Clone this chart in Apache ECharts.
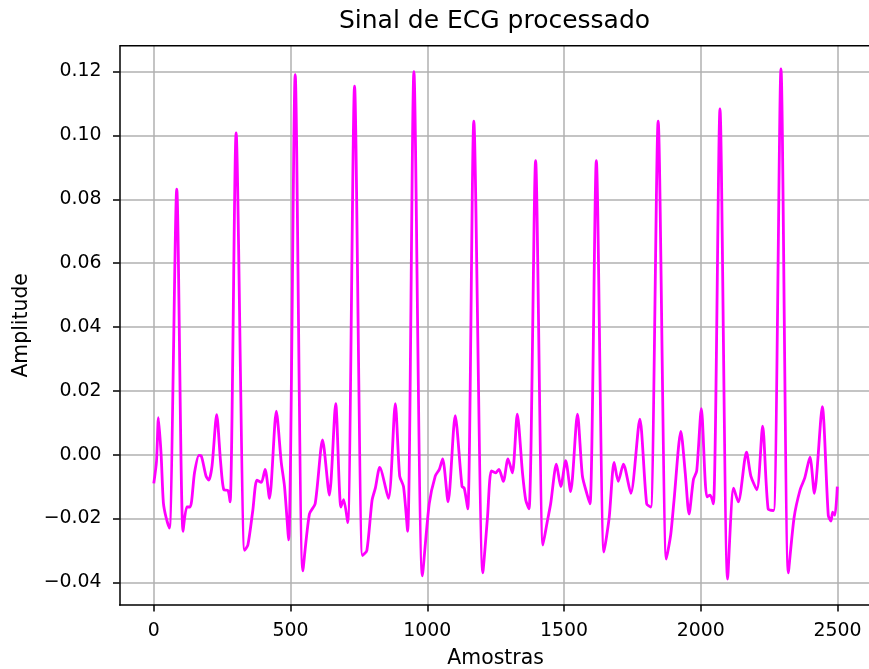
<!DOCTYPE html>
<html>
<head>
<meta charset="utf-8">
<script src="https://cdn.jsdelivr.net/npm/echarts@6/dist/echarts.min.js"></script>
<style>html,body{margin:0;padding:0;background:#fff}#c{width:869px;height:669px}</style>
</head>
<body>
<div id="c"></div>
<script>
const samples = [0,10,17,27,35,45,57,84,107,121,133,149,165,173,191,201,213,230,244,256,271,279,301,332,344,362,377,393,407,423,448,466,478,493,517,545,569,590,617,642,665,684,694,709,734,763,779,798,810,826,858,883,899,913,928,951,982,1007,1029,1044,1056,1076,1102,1127,1135,1148,1170,1203,1220,1234,1250,1262,1278,1295,1311,1329,1348,1360,1372,1396,1423,1439,1451,1472,1488,1506,1524,1549,1567,1583,1595,1618,1646,1665,1683,1698,1717,1744,1777,1802,1817,1844,1874,1890,1902,1927,1943,1957,1973,1985,2002,2022,2034,2046,2070,2098,2120,2137,2167,2183,2205,2226,2246,2266,2293,2320,2341,2363,2380,2399,2415,2444,2466,2476,2482,2490,2499];
const amplitude = [-0.009,-0.002,0.0116,-0.0003,-0.015,-0.0197,-0.023,0.0832,-0.024,-0.0164,-0.0164,-0.0056,-0.0002,-0.0003,-0.0067,-0.008,-0.0035,0.0125,-0.002,-0.011,-0.0112,-0.0148,0.1008,-0.030,-0.0283,-0.0175,-0.008,-0.0087,-0.0046,-0.0137,0.0136,-0.0024,-0.010,-0.0267,0.119,-0.0364,-0.0186,-0.0154,0.0046,-0.0127,0.016,-0.0164,-0.0141,-0.0213,0.1154,-0.0316,-0.030,-0.0143,-0.0105,-0.004,-0.0137,0.016,-0.0067,-0.010,-0.024,0.12,-0.038,-0.0154,-0.0067,-0.0046,-0.0013,-0.0148,0.0122,-0.010,-0.0105,-0.017,0.1045,-0.037,-0.0197,-0.0051,-0.0057,-0.0046,-0.0084,-0.0013,-0.0057,0.0127,-0.0057,-0.0143,-0.017,0.0921,-0.0283,-0.0208,-0.0154,-0.003,-0.010,-0.0019,-0.0116,0.0127,-0.0067,-0.0121,-0.0154,0.0921,-0.0305,-0.0197,-0.0024,-0.0084,-0.003,-0.0121,0.0111,-0.0154,-0.0164,0.1045,-0.0327,-0.025,-0.0143,0.0073,-0.0057,-0.0186,-0.0078,-0.0051,0.0144,-0.0132,-0.0127,-0.0154,0.1083,-0.039,-0.0105,-0.0148,0.0008,-0.0067,-0.011,0.0089,-0.017,-0.0175,0.1208,-0.037,-0.0197,-0.011,-0.0073,-0.0008,-0.0121,0.015,-0.019,-0.0208,-0.018,-0.019,-0.010];
const xTicks = [0,500,1000,1500,2000,2500];
const yTicks = [-0.04,-0.02,0.00,0.02,0.04,0.06,0.08,0.10,0.12];

const chart = echarts.init(document.getElementById('c'), null, {renderer:'canvas'});
const font = 'DejaVu Sans';
const data = samples.map((s,i)=>[s, amplitude[i]]);
chart.setOption({
  animation:false,
  backgroundColor:'#fff',
  title:{text:'Sinal de ECG processado', left:489.5, top:4, textAlign:'center',
    textStyle:{fontFamily:font, fontSize:25, fontWeight:'normal', color:'#000'}},
  grid:{left:119.6, top:45.7, width:751.9, height:559.3, containLabel:false, outerBoundsMode:'none', show:false},
  xAxis:{type:'value', min:-125, max:2624,
    name:'Amostras', nameLocation:'middle', nameGap:44,
    nameTextStyle:{fontFamily:font, fontSize:20.4, color:'#000'},
    axisLine:{show:true, onZero:false, lineStyle:{color:'#000', width:1.5}},
    axisTick:{show:true, customValues:xTicks, length:6.6, inside:false, lineStyle:{color:'#000', width:1.5}},
    axisLabel:{customValues:xTicks, margin:17, fontFamily:font, fontSize:18.9, color:'#000',
      formatter:v=>String(Math.round(v))},
    splitLine:{show:true, lineStyle:{color:'#b0b0b0', width:1.5}}
  },
  yAxis:{type:'value', min:-0.0471, max:0.1281,
    name:'Amplitude', nameLocation:'middle', nameGap:88, nameRotate:90,
    nameTextStyle:{fontFamily:font, fontSize:20.4, color:'#000'},
    axisLine:{show:true, onZero:false, lineStyle:{color:'#000', width:1.5}},
    axisTick:{show:true, customValues:yTicks, length:6.6, inside:false, lineStyle:{color:'#000', width:1.5}},
    axisLabel:{customValues:yTicks, margin:18, fontFamily:font, fontSize:18.9, color:'#000',
      formatter:v=>(v < -1e-9 ? '\u2212' : '') + Math.abs(v).toFixed(2)},
    splitLine:{show:true, lineStyle:{color:'#b0b0b0', width:1.5}}
  },
  series:[{type:'line', data:data, showSymbol:false, smooth:0.25,
    lineStyle:{color:'#ff00ff', width:2.8}, itemStyle:{color:'#ff00ff'}}],
  graphic:[{type:'line', shape:{x1:119.6, y1:45.7, x2:869, y2:45.7}, style:{stroke:'#000', lineWidth:1.5}, z:10}]
});
</script>
</body>
</html>
